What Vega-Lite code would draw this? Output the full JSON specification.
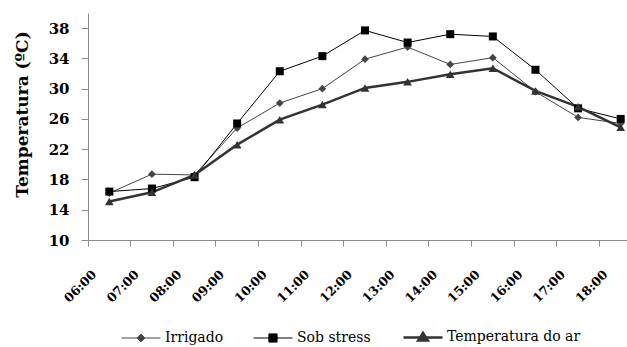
{
  "$schema": "https://vega.github.io/schema/vega-lite/v6.json",
  "width": 539,
  "height": 227,
  "autosize": {"type": "none"},
  "padding": {"left": 88, "top": 13, "right": 0, "bottom": 107},
  "background": "white",
  "config": {"view": {"stroke": null}, "legend": {"layout": {"bottom": {"anchor": "middle"}}}},
  "data": {
    "values": [
      {"hora": "06:00", "serie": "Irrigado", "temp": 16.2},
      {"hora": "07:00", "serie": "Irrigado", "temp": 18.7},
      {"hora": "08:00", "serie": "Irrigado", "temp": 18.6},
      {"hora": "09:00", "serie": "Irrigado", "temp": 24.8},
      {"hora": "10:00", "serie": "Irrigado", "temp": 28.1},
      {"hora": "11:00", "serie": "Irrigado", "temp": 30.0},
      {"hora": "12:00", "serie": "Irrigado", "temp": 33.9},
      {"hora": "13:00", "serie": "Irrigado", "temp": 35.5},
      {"hora": "14:00", "serie": "Irrigado", "temp": 33.2},
      {"hora": "15:00", "serie": "Irrigado", "temp": 34.1},
      {"hora": "16:00", "serie": "Irrigado", "temp": 29.6},
      {"hora": "17:00", "serie": "Irrigado", "temp": 26.2},
      {"hora": "18:00", "serie": "Irrigado", "temp": 25.4},
      {"hora": "06:00", "serie": "Sob stress", "temp": 16.4},
      {"hora": "07:00", "serie": "Sob stress", "temp": 16.8},
      {"hora": "08:00", "serie": "Sob stress", "temp": 18.3},
      {"hora": "09:00", "serie": "Sob stress", "temp": 25.4},
      {"hora": "10:00", "serie": "Sob stress", "temp": 32.3},
      {"hora": "11:00", "serie": "Sob stress", "temp": 34.3},
      {"hora": "12:00", "serie": "Sob stress", "temp": 37.7},
      {"hora": "13:00", "serie": "Sob stress", "temp": 36.1},
      {"hora": "14:00", "serie": "Sob stress", "temp": 37.2},
      {"hora": "15:00", "serie": "Sob stress", "temp": 36.9},
      {"hora": "16:00", "serie": "Sob stress", "temp": 32.5},
      {"hora": "17:00", "serie": "Sob stress", "temp": 27.4},
      {"hora": "18:00", "serie": "Sob stress", "temp": 26.0},
      {"hora": "06:00", "serie": "Temperatura do ar", "temp": 15.1},
      {"hora": "07:00", "serie": "Temperatura do ar", "temp": 16.3},
      {"hora": "08:00", "serie": "Temperatura do ar", "temp": 18.6},
      {"hora": "09:00", "serie": "Temperatura do ar", "temp": 22.6},
      {"hora": "10:00", "serie": "Temperatura do ar", "temp": 25.9},
      {"hora": "11:00", "serie": "Temperatura do ar", "temp": 27.9},
      {"hora": "12:00", "serie": "Temperatura do ar", "temp": 30.1},
      {"hora": "13:00", "serie": "Temperatura do ar", "temp": 30.9},
      {"hora": "14:00", "serie": "Temperatura do ar", "temp": 31.9},
      {"hora": "15:00", "serie": "Temperatura do ar", "temp": 32.7},
      {"hora": "16:00", "serie": "Temperatura do ar", "temp": 29.7},
      {"hora": "17:00", "serie": "Temperatura do ar", "temp": 27.6},
      {"hora": "18:00", "serie": "Temperatura do ar", "temp": 24.9}
    ]
  },
  "encoding": {
    "x": {
      "field": "hora",
      "type": "ordinal",
      "sort": null,
      "scale": {"type": "band", "paddingInner": 0, "paddingOuter": 0, "range": [0, 554]},
      "axis": {
        "title": null,
        "bandPosition": 0,
        "domainColor": "#8c8c8c",
        "tickColor": "#8c8c8c",
        "tickSize": 6,
        "labelAngle": -45,
        "labelAlign": "right",
        "labelBaseline": "middle",
        "labelOffset": -15,
        "labelPadding": 26,
        "labelFont": "DejaVu Serif",
        "labelFontWeight": "bold",
        "labelFontSize": 12.5,
        "labelColor": "#000000"
      }
    },
    "y": {
      "field": "temp",
      "type": "quantitative",
      "scale": {"domain": [10, 40], "nice": false, "zero": false},
      "axis": {
        "title": "Temperatura (ºC)",
        "values": [10, 14, 18, 22, 26, 30, 34, 38],
        "grid": false,
        "domainColor": "#8c8c8c",
        "tickColor": "#8c8c8c",
        "tickSize": 7,
        "labelPadding": 12,
        "labelFont": "DejaVu Serif",
        "labelFontWeight": "bold",
        "labelFontSize": 15,
        "labelColor": "#000000",
        "titleFont": "DejaVu Serif",
        "titleFontSize": 17,
        "titleFontWeight": "bold",
        "titleColor": "#000000",
        "titlePadding": 17,
        "titleY": 101
      }
    },
    "color": {
      "field": "serie",
      "type": "nominal",
      "scale": {"domain": ["Irrigado", "Sob stress", "Temperatura do ar"], "range": ["#454545", "#000000", "#333333"]},
      "legend": {
        "title": null,
        "orient": "bottom",
        "direction": "horizontal",
        "offset": 25,
        "symbolSize": 1521,
        "columnPadding": 27,
        "labelOffset": 17,
        "labelFont": "DejaVu Serif",
        "labelFontSize": 14,
        "labelColor": "#000000",
        "encoding": {
          "symbols": {
            "shape": {"value": {"expr": "datum.value === 'Irrigado' ? 'M-1,0H1M0,-0.2L0.2,0L0,0.2L-0.2,0Z' : datum.value === 'Sob stress' ? 'M-1,0H1M-0.21,-0.21H0.21V0.21H-0.21Z' : 'M-1,0H1M-0.25,0.16L0,-0.24L0.25,0.16Z'"}},
            "strokeWidth": {"value": {"expr": "datum.value === 'Temperatura do ar' ? 2.5 : 1"}},
            "fill": {"value": {"expr": "datum.value === 'Sob stress' ? '#000000' : datum.value === 'Irrigado' ? '#454545' : '#333333'"}},
            "stroke": {"value": {"expr": "datum.value === 'Sob stress' ? '#000000' : datum.value === 'Irrigado' ? '#454545' : '#333333'"}},
            "opacity": {"value": 1},
            "fillOpacity": {"value": 1},
            "strokeOpacity": {"value": 1}
          }
        }
      }
    }
  },
  "layer": [
    {
      "mark": {"type": "line"},
      "encoding": {
        "strokeWidth": {
          "condition": {"test": "datum.serie === 'Temperatura do ar'", "value": 2.5},
          "value": 1
        }
      }
    },
    {
      "mark": {"type": "point", "filled": true, "opacity": 1},
      "encoding": {
        "shape": {
          "condition": [
            {"test": "datum.serie === 'Irrigado'", "value": "diamond"},
            {"test": "datum.serie === 'Sob stress'", "value": "square"}
          ],
          "value": "triangle-up"
        },
        "size": {
          "condition": [
            {"test": "datum.serie === 'Irrigado'", "value": 60},
            {"test": "datum.serie === 'Sob stress'", "value": 64}
          ],
          "value": 75
        }
      }
    }
  ]
}
